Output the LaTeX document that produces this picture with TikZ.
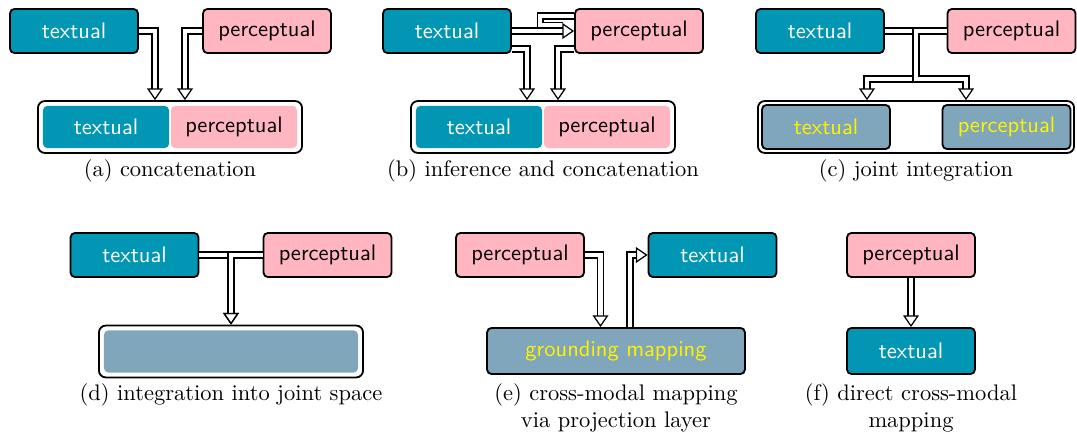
\documentclass[tikz,border=0pt]{standalone}
\usepackage{tikz}
\usetikzlibrary{arrows.meta,calc}

\definecolor{tealbox}{RGB}{0,150,180}
\definecolor{pinkbox}{RGB}{255,182,193}
\definecolor{greybox}{RGB}{128,166,188}
\definecolor{yellowtext}{RGB}{255,242,0}

\tikzset{
  box/.style={draw, thick, rounded corners=2pt, minimum width=2cm, minimum height=0.69cm, font=\sffamily},
  txtbox/.style={box, fill=tealbox, text=white},
  percbox/.style={box, fill=pinkbox, text=black},
  jointbox/.style={box, fill=greybox, text=yellowtext},
  part/.style={rounded corners=2pt, minimum width=1.97cm, minimum height=0.66cm, font=\sffamily},
  holder/.style={draw, thick, fill=white, rounded corners=3pt, minimum height=0.81cm},
  dbl/.style={line width=0.55pt, double, double distance=2.1pt},
  dblarrow/.style={dbl, -{Triangle[open, line width=0.55pt, length=5.2pt, width=7pt]}}
}

\begin{document}
\begin{tikzpicture}[x=0.15625mm, y=-0.15625mm]
\useasboundingbox (0,0) rectangle (1077,438);

% (a) concatenation
\node[txtbox] (txtA) at (74,31) {textual};
\node[percbox] (percA) at (267,31) {perceptual};
\node[holder, minimum width=4.125cm] (catA) at (170,127) {};
\node[part, fill=tealbox, text=white] (catAt) at (106,127) {textual};
\node[part, fill=pinkbox] (catAp) at (234,127) {perceptual};
\draw[dblarrow] (txtA.east) -| ($(catA.north)+(-15,0)$);
\draw[dblarrow] (percA.west) -| ($(catA.north)+(15,0)$);
\node (capA) at (170,171) {(a) concatenation};

% (b) inference and concatenation
\node[txtbox] (txtB) at (447,31) {textual};
\node[percbox] (percB) at (639,31) {perceptual};
\node[holder, minimum width=4.125cm] (catB) at (543,127) {};
\node[part, fill=tealbox, text=white] (catBt) at (479,127) {textual};
\node[part, fill=pinkbox] (catBp) at (607,127) {perceptual};
\draw[dbl] ($(percB.west)+(0,-15)$) -| ($(percB.west)+(-34,-5.5)$) -- ($(percB.west)+(-11,-5.5)$);
\draw[dblarrow] (txtB.east) -- (percB.west);
\draw[dblarrow] ($(txtB.east)+(0,18)$) -| ($(catB.north)+(-16,0)$);
\draw[dblarrow] ($(percB.west)+(0,18)$) -| ($(catB.north)+(15,0)$);
\node (capB) at (543,171) {(b) inference and concatenation};

% (c) joint integration
\node[txtbox] (txtC) at (820,31) {textual};
\node[percbox] (percC) at (1011.5,31) {perceptual};
\node[holder, minimum width=4.94cm] (jointC) at (916,127) {};
\node[jointbox] (jtxtC) at (826,127) {textual};
\node[jointbox] (jpercC) at (1006.5,127) {perceptual};
\coordinate (splitC) at (916,79);
\draw[dblarrow] (txtC.east) -| (splitC) -| ($(jointC.north)+(-49,0)$);
\draw[dblarrow] (percC.west) -| (splitC) -| ($(jointC.north)+(50,0)$);
\node (capC) at (916,171) {(c) joint integration};

% (d) integration into joint space
\node[txtbox] (txtD) at (134.5,255) {textual};
\node[percbox] (percD) at (327.5,255) {perceptual};
\node[holder, minimum width=4.125cm] (spaceD) at (231,351.5) {};
\node[part, fill=greybox, minimum width=3.97cm] (fillD) at (231,351.5) {};
\draw[dblarrow] (txtD.east) -| (spaceD.north);
\draw[dblarrow] (percD.west) -| (spaceD.north);
\node (capD) at (231,395) {(d) integration into joint space};

% (e) cross-modal mapping via projection layer
\node[percbox] (percE) at (520,255) {perceptual};
\node[txtbox] (txtE) at (712.5,255) {textual};
\node[jointbox, minimum width=4.03cm, minimum height=0.72cm] (mapE) at (616,351) {grounding mapping};
\draw[dblarrow] (percE.east) -| ($(mapE.north)+(-15.5,0)$);
\draw[dblarrow] ($(mapE.north)+(14,0)$) |- (txtE.west);
\node[align=center] (capE) at (616,407.5) {(e) cross-modal mapping\\via projection layer};

% (f) direct cross-modal mapping
\node[percbox] (percF) at (911,255) {perceptual};
\node[txtbox, minimum height=0.72cm] (txtF) at (911,351) {textual};
\draw[dblarrow] (percF.south) -- (txtF.north);
\node[align=center] (capF) at (911,407.5) {(f) direct cross-modal\\mapping};

\end{tikzpicture}
\end{document}
